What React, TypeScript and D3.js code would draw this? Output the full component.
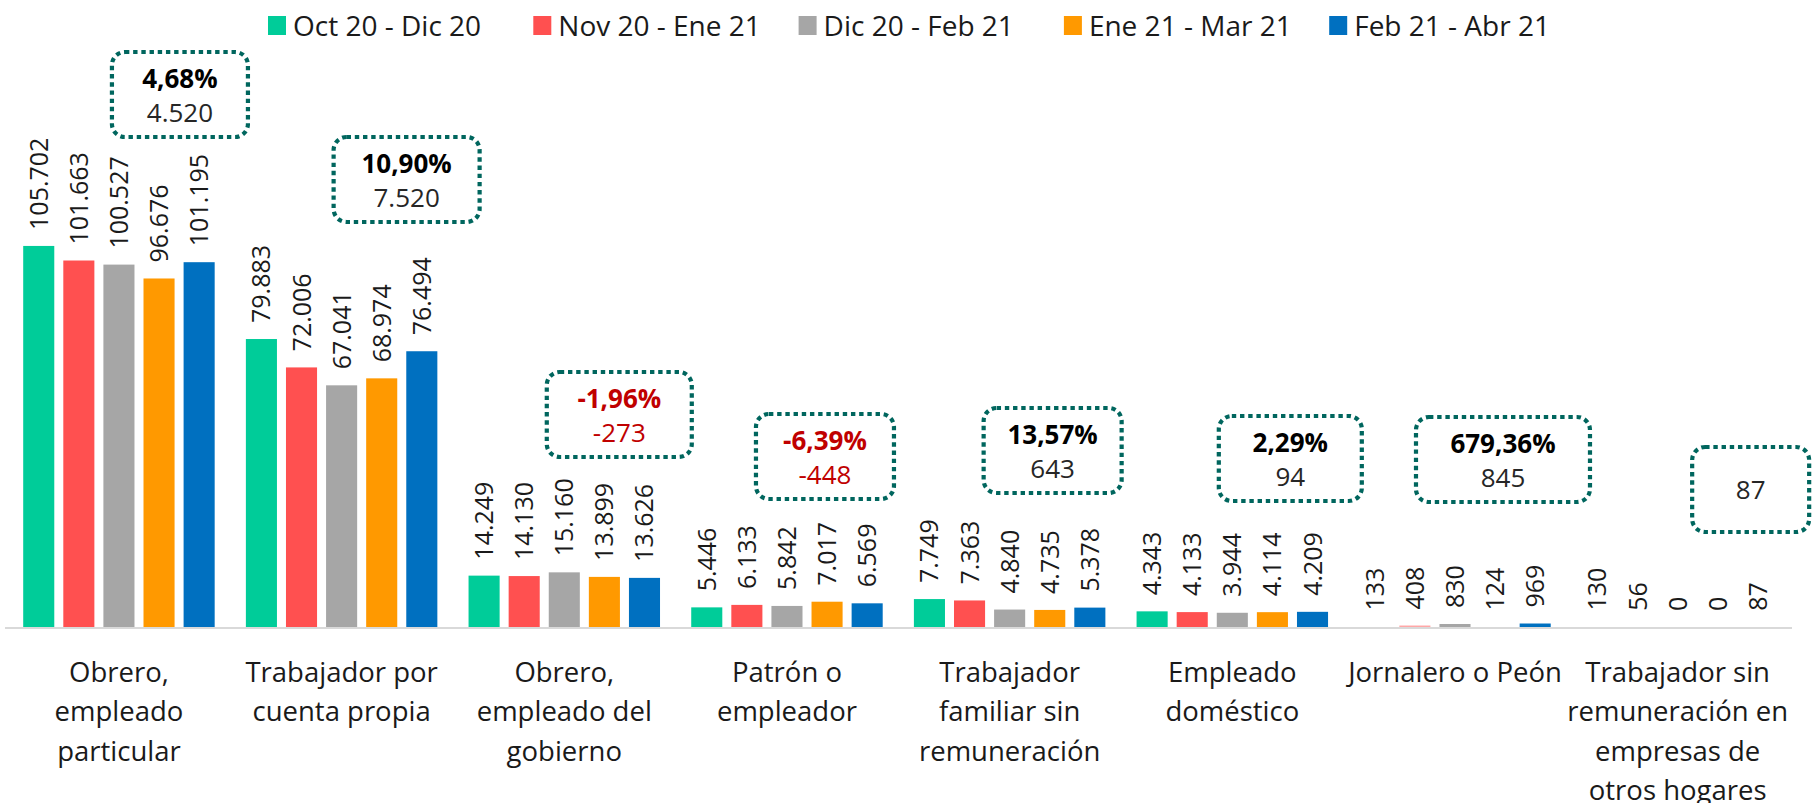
import React from "react";
import * as d3 from "d3";

const categories: string[][] = [
  ["Obrero,", "empleado", "particular"],
  ["Trabajador por", "cuenta propia"],
  ["Obrero,", "empleado del", "gobierno"],
  ["Patrón o", "empleador"],
  ["Trabajador", "familiar sin", "remuneración"],
  ["Empleado", "doméstico"],
  ["Jornalero o Peón"],
  ["Trabajador sin", "remuneración en", "empresas de", "otros hogares"],
];

const seriesNames = [
  "Oct 20 - Dic 20",
  "Nov 20 - Ene 21",
  "Dic 20 - Feb 21",
  "Ene 21 - Mar 21",
  "Feb 21 - Abr 21",
];

const octDic = [105702, 79883, 14249, 5446, 7749, 4343, 133, 130];
const novEne = [101663, 72006, 14130, 6133, 7363, 4133, 408, 56];
const dicFeb = [100527, 67041, 15160, 5842, 4840, 3944, 830, 0];
const eneMar = [96676, 68974, 13899, 7017, 4735, 4114, 124, 0];
const febAbr = [101195, 76494, 13626, 6569, 5378, 4209, 969, 87];

const seriesValues = [octDic, novEne, dicFeb, eneMar, febAbr];

// Variation callouts (percentage change and absolute change, last vs previous period)
const changePct = ["4,68%", "10,90%", "-1,96%", "-6,39%", "13,57%", "2,29%", "679,36%", ""];
const changeAbs = [4520, 7520, -273, -448, 643, 94, 845, 87];

// Layout of the callout boxes (offset from group center, top, width)
const calloutLayout = [
  { dx: 61, top: 52, w: 136 },
  { dx: 65, top: 137, w: 146 },
  { dx: 55, top: 372, w: 145 },
  { dx: 38, top: 414, w: 138 },
  { dx: 43, top: 408, w: 138 },
  { dx: 58, top: 416, w: 143 },
  { dx: 48, top: 417, w: 174 },
  { dx: 73, top: 447, w: 117 },
];

const colors = ["#00CC99", "#FF5050", "#A6A6A6", "#FF9900", "#0070C0"];

const W = 1812;
const H = 803;
const FONT = "'Open Sans', 'Noto Sans', sans-serif";

const locale = d3.formatLocale({
  decimal: ",",
  thousands: ".",
  grouping: [3],
  currency: ["$", ""],
  minus: "-",
});
const fmt = locale.format(",d");

export default function App() {
  const baseline = 627;
  const x0 = d3
    .scaleBand<number>()
    .domain(d3.range(categories.length))
    .range([7.6, 1789])
    .paddingInner(0)
    .paddingOuter(0);
  const x1 = d3
    .scaleBand<number>()
    .domain(d3.range(seriesNames.length))
    .range([15.6, x0.bandwidth() - 15.6])
    .paddingInner(0.225)
    .paddingOuter(0);
  const y = d3.scaleLinear().domain([0, 120000]).range([baseline, baseline - 120 * 3.605]);

  return (
    <svg
      width={W}
      height={H}
      style={{ position: "absolute", left: 0, top: 0, background: "#fff" }}
      fontFamily={FONT}
    >
      {/* Legend */}
      {seriesNames.map((n, i) => {
        const lx = 268 + i * 265.3;
        return (
          <g key={n}>
            <rect x={lx} y={16} width={18} height={19} fill={colors[i]} />
            <text x={lx + 25} y={26} dy="0.35em" fontSize={28} fill="#1a1a1a">
              {n}
            </text>
          </g>
        );
      })}

      {/* Bars and value labels */}
      {categories.map((c, gi) => (
        <g key={gi} transform={`translate(${x0(gi)},0)`}>
          {seriesValues.map((vals, si) => {
            const v = vals[gi];
            const bx = x1(si)!;
            const by = y(v);
            const cx = bx + x1.bandwidth() / 2;
            const h = baseline - by;
            return (
              <g key={si}>
                {h >= 1 && (
                  <rect
                    x={bx}
                    y={by}
                    width={x1.bandwidth()}
                    height={h}
                    fill={colors[si]}
                    opacity={h < 2 ? 0.5 : 1}
                  />
                )}
                <text
                  transform={`translate(${cx},${by - 16}) rotate(-90)`}
                  dy="0.36em"
                  fontSize={25}
                  fill="#1a1a1a"
                  textAnchor="start"
                >
                  {fmt(v)}
                </text>
              </g>
            );
          })}
        </g>
      ))}

      {/* Axis line */}
      <line x1={5} x2={1792} y1={baseline + 1} y2={baseline + 1} stroke="#D9D9D9" strokeWidth={2} />

      {/* Category labels */}
      {categories.map((lines, gi) => {
        const cx = x0(gi)! + x0.bandwidth() / 2;
        return (
          <text key={gi} x={cx} textAnchor="middle" fontSize={27.5} fill="#1a1a1a">
            {lines.map((l, li) => (
              <tspan key={li} x={cx} y={672 + li * 39.6} dy="0.35em">
                {l}
              </tspan>
            ))}
          </text>
        );
      })}

      {/* Callouts */}
      {calloutLayout.map((L, gi) => {
        const cx = x0(gi)! + x0.bandwidth() / 2 + L.dx;
        const h = 85;
        const neg = changeAbs[gi] < 0;
        const pct = changePct[gi];
        return (
          <g key={gi}>
            <rect
              x={cx - L.w / 2}
              y={L.top}
              width={L.w}
              height={h}
              rx={13}
              ry={13}
              fill="none"
              stroke="#00665E"
              strokeWidth={4.2}
              strokeDasharray="4.4 3.8"
            />
            {pct ? (
              <>
                <text
                  x={cx}
                  y={L.top + 27}
                  dy="0.35em"
                  textAnchor="middle"
                  fontSize={26}
                  fontWeight={700}
                  fill={neg ? "#C00000" : "#000"}
                >
                  {pct}
                </text>
                <text
                  x={cx}
                  y={L.top + 61}
                  dy="0.35em"
                  textAnchor="middle"
                  fontSize={26}
                  fill={neg ? "#C00000" : "#262626"}
                >
                  {fmt(changeAbs[gi])}
                </text>
              </>
            ) : (
              <text
                x={cx}
                y={L.top + h / 2}
                dy="0.35em"
                textAnchor="middle"
                fontSize={26}
                fill="#262626"
              >
                {fmt(changeAbs[gi])}
              </text>
            )}
          </g>
        );
      })}
    </svg>
  );
}
